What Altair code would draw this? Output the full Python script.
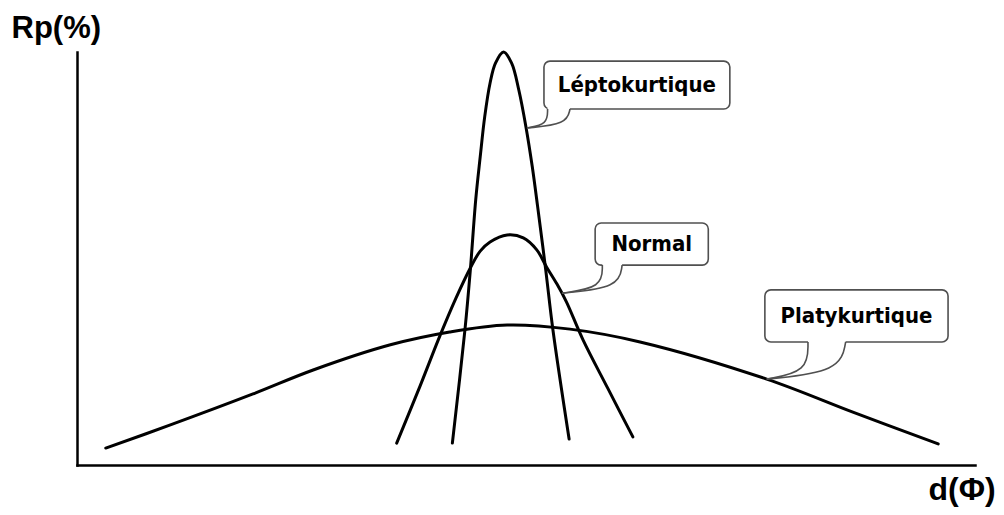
import altair as alt
import pandas as pd

# ---- data (x: d(Φ) in % of axis length, y: Rp %) ----
lepto_x = [41.8, 43.2, 43.8, 44.4, 44.9, 45.4, 46.0, 46.6, 47.5, 48.4, 49.2, 50.0, 50.7, 51.3, 52.2, 53.0, 54.8]
lepto_y = [5.3, 32.7, 47.2, 64.2, 74.6, 84.3, 92.5, 97.3, 100.0, 97.3, 90.8, 81.8, 72.2, 62.5, 47.2, 32.7, 6.3]

normal_x = [35.6, 38.2, 40.4, 42.2, 43.8, 44.9, 46.0, 47.9, 49.7, 51.2, 52.3, 53.45, 54.5, 56.35, 59.1, 61.9]
normal_y = [5.3, 19.1, 31.2, 40.4, 47.7, 51.8, 54.0, 55.7, 55.0, 52.1, 47.9, 43.8, 39.5, 30.3, 18.6, 6.8]

platy_x = [3.2, 10.4, 19.6, 26.3, 34.9, 41.5, 47.9, 54.9, 62.7, 76.8, 86.4, 95.9]
platy_y = [4.1, 9.7, 17.2, 23.0, 29.1, 32.2, 33.9, 32.9, 29.8, 20.8, 12.8, 5.1]

labels = ["Léptokurtique", "Normal", "Platykurtique"]
# callout boxes (data units)
box_x1 = [52.0, 57.7, 76.6]
box_x2 = [72.7, 70.3, 97.0]
box_y1 = [86.2, 48.4, 29.8]
box_y2 = [97.8, 58.6, 42.4]
# callout tails: base on box bottom, anchor on curve
tail_x1 = [52.4, 58.5, 81.4]
tail_x2 = [54.9, 60.7, 85.6]
anchor_x = [50.1, 54.0, 76.8]
anchor_y = [81.6, 41.6, 20.8]

# ---- tables ----
rows = []
for name, xs, ys in [("lepto", lepto_x, lepto_y), ("normal", normal_x, normal_y), ("platy", platy_x, platy_y)]:
    for xv, yv in zip(xs, ys):
        rows.append({"series": name, "x": xv, "y": yv})
curves = pd.DataFrame(rows)

boxes = pd.DataFrame({
    "label": labels, "x1": box_x1, "x2": box_x2, "y1": box_y1, "y2": box_y2,
    "t1": tail_x1, "t2": tail_x2,
})
boxes["cx"] = (boxes["x1"] + boxes["x2"]) / 2
boxes["cy"] = (boxes["y1"] + boxes["y2"]) / 2

tail_rows = []
for i, lab in enumerate(labels):
    by = box_y1[i]
    for side, bx in (("L", tail_x1[i]), ("R", tail_x2[i])):
        shift = 0.0 if side == "L" else -0.15 * (tail_x2[i] - tail_x1[i])
        cy = anchor_y[i] + 0.2 * (by - anchor_y[i])
        pts = [(bx, by), (bx + shift, cy), (anchor_x[i], anchor_y[i])]
        for k, (px, py) in enumerate(pts):
            tail_rows.append({"id": f"{lab}-{side}", "k": k, "x": px, "y": py})
tails = pd.DataFrame(tail_rows)

sx = alt.Scale(domain=[0, 100], nice=False, zero=False)
sy = alt.Scale(domain=[0, 100], nice=False, zero=False)

x_axis = alt.Axis(domain=True, domainColor="black", domainWidth=2.5, domainCap="square",
                  ticks=False, labels=False, grid=False, title="d(Φ)",
                  titleFont="Liberation Sans", titleFontWeight="bold", titleFontSize=32,
                  titleColor="black", titleAlign="left", titleBaseline="alphabetic",
                  titleX=851, titleY=34, titleAngle=0)
y_axis = alt.Axis(domain=True, domainColor="black", domainWidth=2.5, domainCap="square",
                  ticks=False, labels=False, grid=False, title="Rp(%)",
                  titleFont="Liberation Sans", titleFontWeight="bold", titleFontSize=31,
                  titleColor="black", titleAlign="left", titleBaseline="alphabetic",
                  titleX=-66, titleY=-15, titleAngle=0)


def X(field):
    return alt.X(field, scale=sx, axis=x_axis, title="d(Φ)")


def Y(field):
    return alt.Y(field, scale=sy, axis=y_axis, title="Rp(%)")


lines = alt.Chart(curves).mark_line(
    interpolate="catmull-rom", color="black", strokeWidth=3, strokeCap="round"
).encode(x=X("x:Q"), y=Y("y:Q"), detail="series:N")

rects = alt.Chart(boxes).mark_rect(
    cornerRadius=6, fill="white", stroke="#505050", strokeWidth=1.6
).encode(x=X("x1:Q"), x2="x2:Q", y=Y("y1:Q"), y2="y2:Q")

gaps = alt.Chart(boxes).mark_rule(color="white", strokeWidth=3).encode(
    x=X("t1:Q"), x2="t2:Q", y=Y("y1:Q"),
)

tail_lines = alt.Chart(tails).mark_line(
    interpolate="basis", color="#505050", strokeWidth=1.6
).encode(x=X("x:Q"), y=Y("y:Q"), detail="id:N", order="k:Q")

texts = alt.Chart(boxes).mark_text(
    font="DejaVu Sans Condensed, Liberation Sans Narrow, sans-serif", fontWeight="bold",
    fontSize=22, color="black", align="center", baseline="middle"
).encode(x=X("cx:Q"), y=Y("cy:Q"), text="label:N")

chart = alt.layer(lines, rects, gaps, tail_lines, texts).properties(
    width=898, height=413,
    padding={"left": 69, "top": 44, "right": 21, "bottom": 42},
    autosize=alt.AutoSizeParams(type="none"),
    background="white",
).configure_view(stroke=None)

chart.save("out.html", embed_options={"renderer": "svg", "actions": False})
